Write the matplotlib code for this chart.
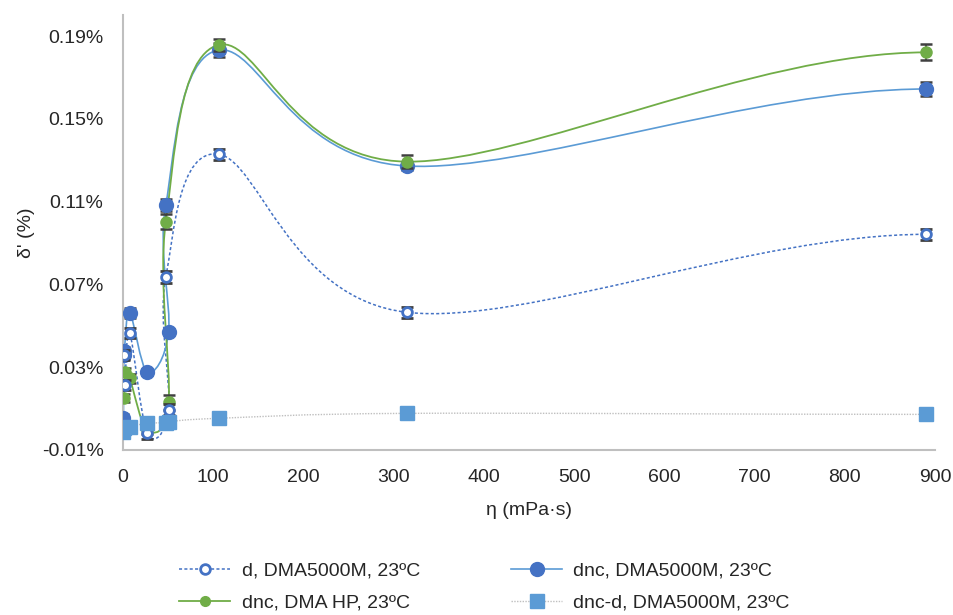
import numpy as np
import matplotlib
matplotlib.use("Agg")
import matplotlib.pyplot as plt
from matplotlib.path import Path
from matplotlib.patches import PathPatch
from matplotlib.lines import Line2D

plt.rcParams['font.family'] = ['Liberation Sans', 'DejaVu Sans']

# ---- data (viscosity in mPa·s, delta' in %) ----
d_x = [1.0, 2.0, 7.5, 27.0, 50.5, 47.5, 106.0, 315.0, 890.0]
d_y = [0.036, 0.0215, 0.0464, -0.002, 0.0095, 0.0736, 0.1329, 0.0565, 0.0942]
d_err = [0.0025, 0.0025, 0.0025, 0.0025, 0.0025, 0.0027, 0.0027, 0.0027, 0.0028]

dnc_x = [0.5, 1.0, 1.5, 7.5, 27.0, 50.5, 47.5, 106.0, 315.0, 890.0]
dnc_y = [0.0053, 0.036, 0.0378, 0.0563, 0.0275, 0.047, 0.1084, 0.1832, 0.1272, 0.1644]
dnc_err = [0.002, 0.002, 0.002, 0.0025, 0.0015, 0.0015, 0.003, 0.0033, 0.002, 0.0036]

hp_x = [1.0, 2.0, 7.5, 27.0, 50.5, 47.5, 106.0, 315.0, 890.0]
hp_y = [0.015, 0.0278, 0.0246, -0.0005, 0.013, 0.1003, 0.1857, 0.1293, 0.1821]
hp_err = [0.002, 0.002, 0.002, 0.002, 0.0035, 0.0035, 0.0028, 0.0032, 0.0039]

diff_x = [0.5, 1.0, 7.5, 27.0, 47.5, 50.5, 106.0, 315.0, 890.0]
diff_y = [-0.0012, 0.0005, 0.0013, 0.0029, 0.0032, 0.0037, 0.0053, 0.0077, 0.0072]

x_ticks = [0, 100, 200, 300, 400, 500, 600, 700, 800, 900]
y_ticks = [-0.01, 0.03, 0.07, 0.11, 0.15, 0.19]

BLUE = '#4472C4'
LBLUE = '#5B9BD5'
GREEN = '#70AD47'
GRAY = '#BFBFBF'
ERR = '#404040'
TXT = '#262626'

fig = plt.figure(figsize=(9.54, 6.15), dpi=100)
ax = fig.add_axes([0.1289, 0.2683, 0.8512, 0.7068])
ax.set_xlim(0, 900)
ax.set_ylim(-0.01, 0.20)


def smooth(ax, xs, ys, **kw):
    """Smoothed line (Bezier through points, computed in display space)."""
    pts = ax.transData.transform(np.column_stack([xs, ys]))
    n = len(pts)
    verts = [pts[0]]
    codes = [Path.MOVETO]
    for i in range(n - 1):
        p0 = pts[i - 1] if i > 0 else pts[i]
        p1 = pts[i]
        p2 = pts[i + 1]
        c1 = p1 + (p2 - p0) / 6.0
        if i + 2 < n:
            c2 = p2 - (pts[i + 2] - p1) / 6.0
        else:
            # flat ending into the last point
            c2 = p2 - np.array([(p2[0] - p1[0]) / 3.0, 0.0])
        verts += [c1, c2, p2]
        codes += [Path.CURVE4] * 3
    verts = ax.transData.inverted().transform(np.array(verts))
    patch = PathPatch(Path(verts, codes), fill=False, **kw)
    ax.add_patch(patch)


# lines
smooth(ax, diff_x, diff_y, edgecolor=GRAY, lw=1.0, linestyle=(0, (1, 1)), zorder=2)
smooth(ax, d_x, d_y, edgecolor=BLUE, lw=1.1, linestyle=(0, (2, 1.5)), zorder=2)
smooth(ax, dnc_x, dnc_y, edgecolor=LBLUE, lw=1.2, zorder=2)
smooth(ax, hp_x, hp_y, edgecolor=GREEN, lw=1.3, zorder=2)

# markers + error bars
ax.errorbar(hp_x, hp_y, yerr=hp_err, fmt='o', ms=8, color=GREEN, mec=GREEN,
            ecolor=ERR, elinewidth=1.2, capsize=4.5, capthick=1.8, zorder=5)
ax.errorbar(dnc_x, dnc_y, yerr=dnc_err, fmt='o', ms=10, color=BLUE, mec=BLUE,
            ecolor=ERR, elinewidth=1.2, capsize=4.5, capthick=1.8, zorder=4)
ax.errorbar(d_x, d_y, yerr=d_err, fmt='o', ms=7, mfc='white', mec=BLUE, mew=2,
            ecolor=ERR, elinewidth=1.2, capsize=4.5, capthick=1.8, zorder=6)
ax.plot(diff_x, diff_y, 's', ms=10, color=LBLUE, zorder=7, linestyle='none')

# axes styling
for s in ['top', 'right']:
    ax.spines[s].set_visible(False)
for s in ['left', 'bottom']:
    ax.spines[s].set_color('#BFBFBF')
    ax.spines[s].set_linewidth(1.5)
ax.set_xticks(x_ticks)
ax.set_yticks(y_ticks)
ax.set_yticklabels([f"{v:.2f}%" for v in y_ticks])
ax.tick_params(length=0, labelsize=14, colors=TXT, pad=14)
ax.set_ylabel("δ' (%)", fontsize=14, color=TXT, labelpad=5)
ax.set_xlabel("η (mPa·s)", fontsize=14, color=TXT, labelpad=11)

# legend
h_d = Line2D([], [], color=BLUE, lw=1.1, linestyle=(0, (2, 1.5)), marker='o',
             ms=7, mfc='white', mec=BLUE, mew=2)
h_dnc = Line2D([], [], color=LBLUE, lw=1.2, marker='o', ms=10, mfc=BLUE, mec=BLUE)
h_hp = Line2D([], [], color=GREEN, lw=1.3, marker='o', ms=7, mfc=GREEN, mec=GREEN)
h_diff = Line2D([], [], color=GRAY, lw=1.0, linestyle=(0, (1, 1)), marker='s',
                ms=10, mfc=LBLUE, mec=LBLUE)
fig.legend([h_d, h_hp, h_dnc, h_diff],
           ['d, DMA5000M, 23ºC', 'dnc, DMA HP, 23ºC',
            'dnc, DMA5000M, 23ºC', 'dnc-d, DMA5000M, 23ºC'],
           ncol=2, loc='center', bbox_to_anchor=(0.508, 0.0455), frameon=False,
           fontsize=14, handlelength=2.6, handletextpad=0.6, columnspacing=4.7,
           labelspacing=0.75, labelcolor=TXT)

fig.savefig('out.png', dpi=100)
